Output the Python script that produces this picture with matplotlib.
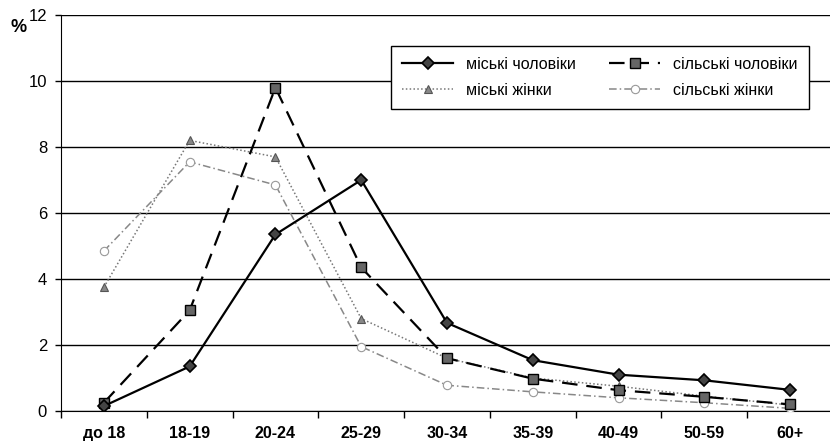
import matplotlib
matplotlib.use("Agg")
import matplotlib.pyplot as plt

plt.rcParams['font.family'] = ['Liberation Sans', 'DejaVu Sans']

categories = ["до 18", "18-19", "20-24", "25-29", "30-34", "35-39", "40-49", "50-59", "60+"]
urban_men = [0.15, 1.35, 5.35, 7.0, 2.67, 1.54, 1.1, 0.93, 0.64]
rural_men = [0.25, 3.05, 9.8, 4.35, 1.6, 0.98, 0.63, 0.43, 0.2]
urban_women = [3.75, 8.2, 7.7, 2.8, 1.6, 1.0, 0.75, 0.45, 0.18]
rural_women = [4.85, 7.55, 6.85, 1.95, 0.78, 0.58, 0.4, 0.25, 0.08]
labels = ["міські чоловіки", "сільські чоловіки", "міські жінки", "сільські жінки"]
yticks = [0, 2, 4, 6, 8, 10, 12]

fig = plt.figure(figsize=(8.3, 4.45), dpi=100)
ax = fig.add_axes([61/830, 1-411/445, 772/830, 396/445])
x = list(range(len(categories)))

l1, = ax.plot(x, urban_men, color='black', lw=1.6, ls='-', marker='D', ms=6.5,
              mfc='#444444', mec='black', mew=1.2, zorder=5)
l2, = ax.plot(x, rural_men, color='black', lw=1.6, ls=(0, (7, 4)), marker='s', ms=6.5,
              mfc='#666666', mec='black', mew=1.0, zorder=4)
l3, = ax.plot(x, urban_women, color='#777777', lw=1.1, ls=(0, (1, 1.5)), marker='^', ms=6,
              mfc='#888888', mec='#555555', mew=0.8, zorder=3)
l4, = ax.plot(x, rural_women, color='#888888', lw=1.1, ls=(0, (5, 2, 1, 2)), marker='o', ms=6,
              mfc='white', mec='#999999', mew=0.8, zorder=3)

ax.set_xlim(-0.5, len(categories) - 0.5)
ax.set_ylim(0, 12)
ax.set_yticks(yticks)
ax.set_yticklabels([str(v) for v in yticks], fontsize=12)
ax.yaxis.grid(True, color='black', lw=1.0)
ax.set_axisbelow(True)
ax.set_xticks(x)
ax.set_xticklabels(categories, fontsize=11.5, fontweight='bold')
ax.set_xticks([i + 0.5 for i in range(-1, len(categories))], minor=True)
ax.tick_params(axis='x', which='major', length=0, pad=11)
ax.tick_params(axis='x', which='minor', length=5, width=1, direction='out')
ax.tick_params(axis='y', length=4, width=1, direction='out', pad=6)
for s in ['top', 'right']:
    ax.spines[s].set_visible(False)
ax.spines['left'].set_color('black')
ax.spines['bottom'].set_color('black')

fig.text(10/830, 1-27/445, "%", fontsize=13, fontweight='bold', va='center')

# ncol=2 fills column-wise; order so rows read men / women
leg = ax.legend([l1, l3, l2, l4], [labels[0], labels[2], labels[1], labels[3]],
                ncol=2, loc='lower left',
                bbox_to_anchor=(0.417, 0.742, 0.562, 0.19), mode='expand',
                fontsize=11.5, frameon=True, fancybox=False, framealpha=1,
                edgecolor='black', handlelength=3.2, borderpad=0.7,
                labelspacing=0.7, columnspacing=1.5)
leg.get_frame().set_linewidth(1.0)

fig.savefig("out.png", dpi=100)
